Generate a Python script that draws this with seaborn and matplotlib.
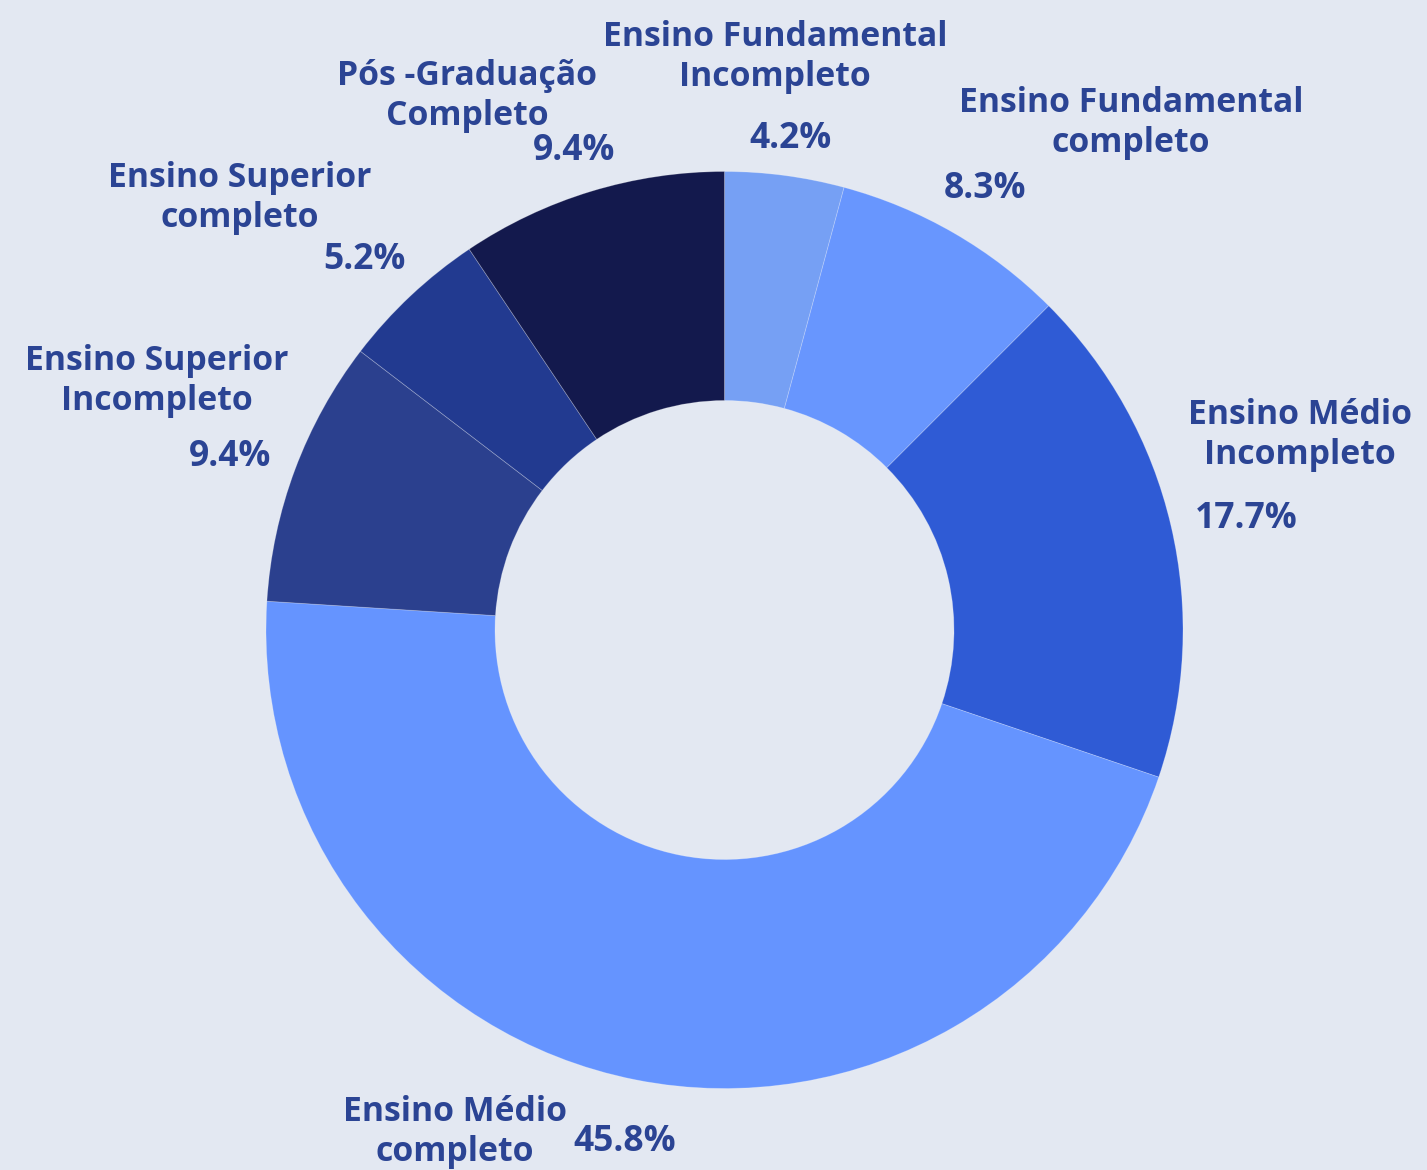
import matplotlib
matplotlib.use("Agg")
import matplotlib.pyplot as plt
import seaborn as sns

# ---- data ----
categories = [
    "Ensino Fundamental\nIncompleto",
    "Ensino Fundamental\ncompleto",
    "Ensino Médio\nIncompleto",
    "Ensino Médio\ncompleto",
    "Ensino Superior\nIncompleto",
    "Ensino Superior\ncompleto",
    "Pós -Graduação\nCompleto",
]
values = [4.2, 8.3, 17.7, 45.8, 9.4, 5.2, 9.4]
colors = ["#76a0f4", "#6896fe", "#2f5bd5", "#6594ff", "#2b408e", "#223a90", "#13194d"]

# label layout (image pixel coords: name centre, percent centre)
name_pos = [(775, 57), (1131, 123), (1300, 435), (455, 1132), (157, 381), (240, 198), (467, 96)]
pct_pos = [(791, 139), (985, 189), (1246, 519), (625, 1142), (230, 457), (364, 260), (574, 151)]

W, H = 1427, 1170
BG = "#e3e8f2"
TXT = "#2b4494"

sns.set_theme(style="white")
plt.rcParams["font.family"] = ["Open Sans", "DejaVu Sans"]

fig = plt.figure(figsize=(W / 100, H / 100), dpi=100, facecolor=BG)
ax = fig.add_axes([0, 0, 1, 1])
ax.set_facecolor(BG)

cx, cy, R = 724.5, H - 630, 458.5
wedges, _ = ax.pie(
    values,
    colors=colors,
    startangle=90,
    counterclock=False,
    center=(cx, cy),
    radius=R,
    wedgeprops=dict(width=229, edgecolor=(1, 1, 1, 0.25), linewidth=0.6),
)
ax.set_xlim(0, W)
ax.set_ylim(0, H)
ax.set_aspect("equal")
ax.axis("off")

for name, (nx, ny), v, (px, py) in zip(categories, name_pos, values, pct_pos):
    ax.text(nx, H - ny, name, ha="center", va="center", fontsize=24.3,
            fontweight="bold", color=TXT, linespacing=1.24)
    ax.text(px, H - py, f"{v:.1f}%", ha="center", va="center", fontsize=25.5,
            fontweight="bold", color=TXT)

fig.savefig("out.png", dpi=100, facecolor=BG)
